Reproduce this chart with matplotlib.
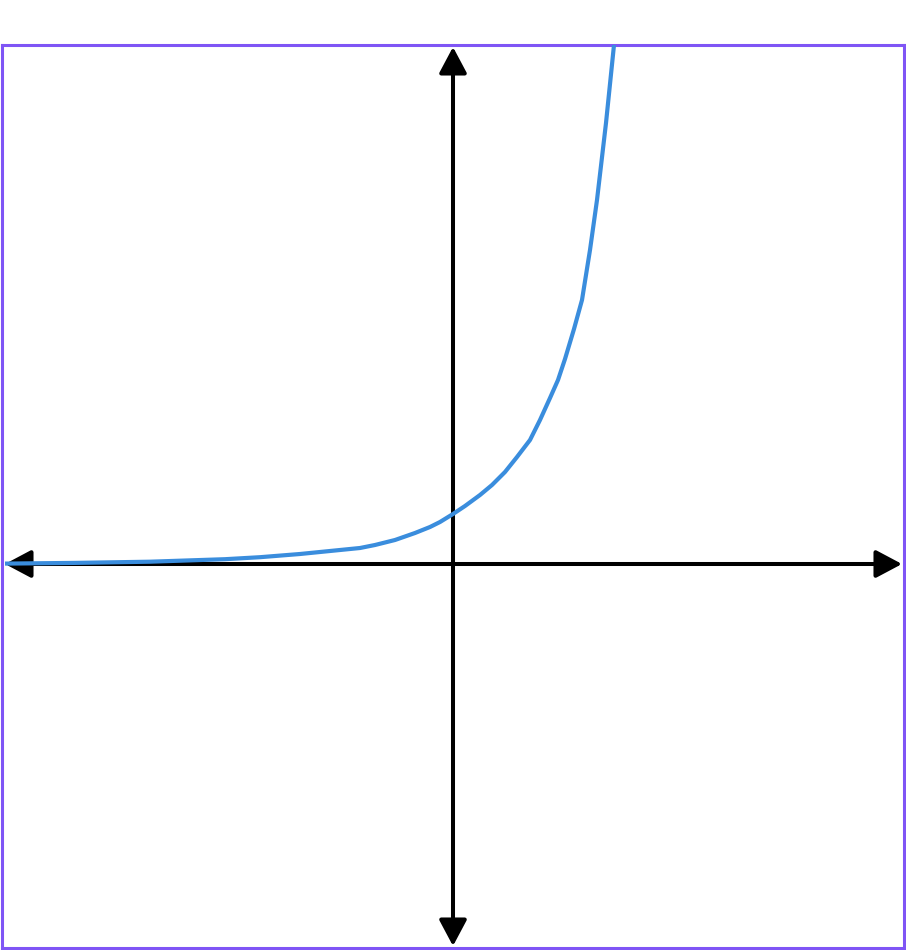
import matplotlib
matplotlib.use("Agg")
import matplotlib.pyplot as plt

# Curve points (data units: 1 unit = 50 px)
curve_x = [-8.96, -7.56, -6.06, -4.56, -3.86, -3.06, -2.26, -1.86, -1.56, -1.16,
           -0.76, -0.46, -0.26, 0.0, 0.24, 0.54, 0.78, 1.04, 1.28, 1.54, 1.74,
           1.94, 2.10, 2.24, 2.42, 2.58, 2.74, 2.88, 3.06, 3.22]
curve_y = [0.008, 0.022, 0.046, 0.096, 0.136, 0.20, 0.28, 0.32, 0.38, 0.48,
           0.62, 0.74, 0.84, 1.0, 1.16, 1.38, 1.58, 1.84, 2.14, 2.48, 2.88,
           3.32, 3.68, 4.10, 4.70, 5.28, 6.28, 7.28, 8.82, 10.38]

xlim = (-9.02, 9.02)
ylim = (-7.68, 10.38)

fig = plt.figure(figsize=(9.06, 9.5), dpi=100)
ax = fig.add_axes([2/906, 2/950, 902/906, 903/950])
ax.set_xlim(*xlim)
ax.set_ylim(*ylim)
ax.set_xticks([])
ax.set_yticks([])
for s in ax.spines.values():
    s.set_color('#7f55f5')
    s.set_linewidth(2.2)

arrow = dict(arrowstyle='<|-|>,head_length=1.6,head_width=0.85', lw=2.9,
             color='black', shrinkA=0, shrinkB=0, mutation_scale=10)
ax.annotate('', xy=(8.98, 0), xytext=(-8.96, 0), arrowprops=arrow, zorder=2)
ax.annotate('', xy=(0, 10.34), xytext=(0, -7.64), arrowprops=arrow, zorder=2)

ax.plot(curve_x, curve_y, color='#3a8ddd', lw=3.0, zorder=3,
        solid_capstyle='butt', solid_joinstyle='round')

fig.savefig('out.png', dpi=100)
